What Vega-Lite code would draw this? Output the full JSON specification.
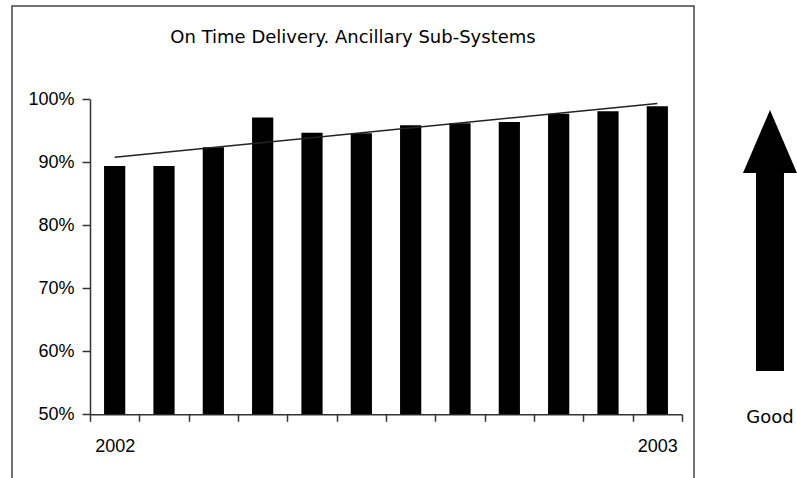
{
  "$schema": "https://vega.github.io/schema/vega-lite/v6.json",
  "padding": {"left": 11, "top": 5, "right": 0, "bottom": 0},
  "spacing": 47,
  "background": "white",
  "config": {"view": {"stroke": null}},
  "hconcat": [
    {
      "width": 682,
      "height": 476,
      "view": {"stroke": "#444", "strokeWidth": 1.5},
      "title": {
        "text": "On Time Delivery. Ancillary Sub-Systems",
        "font": "DejaVu Sans",
        "fontSize": 18,
        "fontWeight": "normal",
        "color": "#000",
        "anchor": "middle",
        "offset": -41
      },
      "data": {
        "values": [
          {"month": 1, "onTime": 0.894},
          {"month": 2, "onTime": 0.894},
          {"month": 3, "onTime": 0.924},
          {"month": 4, "onTime": 0.971},
          {"month": 5, "onTime": 0.947},
          {"month": 6, "onTime": 0.946},
          {"month": 7, "onTime": 0.959},
          {"month": 8, "onTime": 0.962},
          {"month": 9, "onTime": 0.964},
          {"month": 10, "onTime": 0.977},
          {"month": 11, "onTime": 0.981},
          {"month": 12, "onTime": 0.989}
        ]
      },
      "layer": [
        {
          "mark": {"type": "bar", "color": "#000", "width": {"band": 0.43}},
          "encoding": {
            "x": {
              "field": "month",
              "type": "ordinal",
              "scale": {"range": [78, 670], "paddingInner": 0, "paddingOuter": 0},
              "axis": {
                "title": null,
                "tickBand": "extent",
                "labelExpr": "datum.value == 1 ? '2002' : (datum.value == 12 ? '2003' : '')",
                "labelAngle": 0,
                "labelFont": "Liberation Sans",
                "labelFontSize": 18,
                "labelColor": "#000",
                "labelPadding": 16,
                "tickSize": 7,
                "tickWidth": 1.5,
                "tickColor": "#333",
                "domainColor": "#333",
                "domainWidth": 1.5,
                "grid": false,
                "offset": -67.7
              }
            },
            "y": {
              "field": "onTime",
              "type": "quantitative",
              "scale": {"domain": [0.5, 1], "range": [408.3, 93.3], "nice": false, "zero": false},
              "axis": {
                "title": null,
                "values": [0.5, 0.6, 0.7, 0.8, 0.9, 1],
                "format": ".0%",
                "labelFont": "Liberation Sans",
                "labelFontSize": 18,
                "labelColor": "#000",
                "labelPadding": 8,
                "tickSize": 8,
                "tickWidth": 1.5,
                "tickColor": "#333",
                "domainColor": "#333",
                "domainWidth": 1.5,
                "grid": false,
                "offset": -78
              }
            },
            "y2": {"datum": 0.5}
          }
        },
        {
          "transform": [{"regression": "onTime", "on": "month"}],
          "mark": {"type": "line", "color": "#222", "strokeWidth": 1.5},
          "encoding": {
            "x": {"field": "month", "type": "ordinal"},
            "y": {"field": "onTime", "type": "quantitative"}
          }
        }
      ]
    },
    {
      "width": 56,
      "height": 476,
      "data": {"values": [{"item": "arrow"}, {"item": "Good"}]},
      "layer": [
        {
          "transform": [{"filter": "datum.item == 'arrow'"}],
          "mark": {
            "type": "point",
            "shape": "M0,-1L0.207,-0.517L0.107,-0.517L0.107,1L-0.107,1L-0.107,-0.517L-0.207,-0.517Z",
            "filled": true,
            "color": "#000",
            "opacity": 1,
            "size": 68121
          },
          "encoding": {
            "y": {
              "field": "item",
              "type": "nominal",
              "scale": {"type": "point", "domain": ["arrow", "Good"], "range": [234.5, 412], "padding": 0},
              "axis": null
            }
          }
        },
        {
          "transform": [{"filter": "datum.item == 'Good'"}],
          "mark": {"type": "text", "font": "DejaVu Sans", "fontSize": 18, "color": "#000"},
          "encoding": {
            "y": {"field": "item", "type": "nominal"},
            "text": {"field": "item"}
          }
        }
      ]
    }
  ]
}
